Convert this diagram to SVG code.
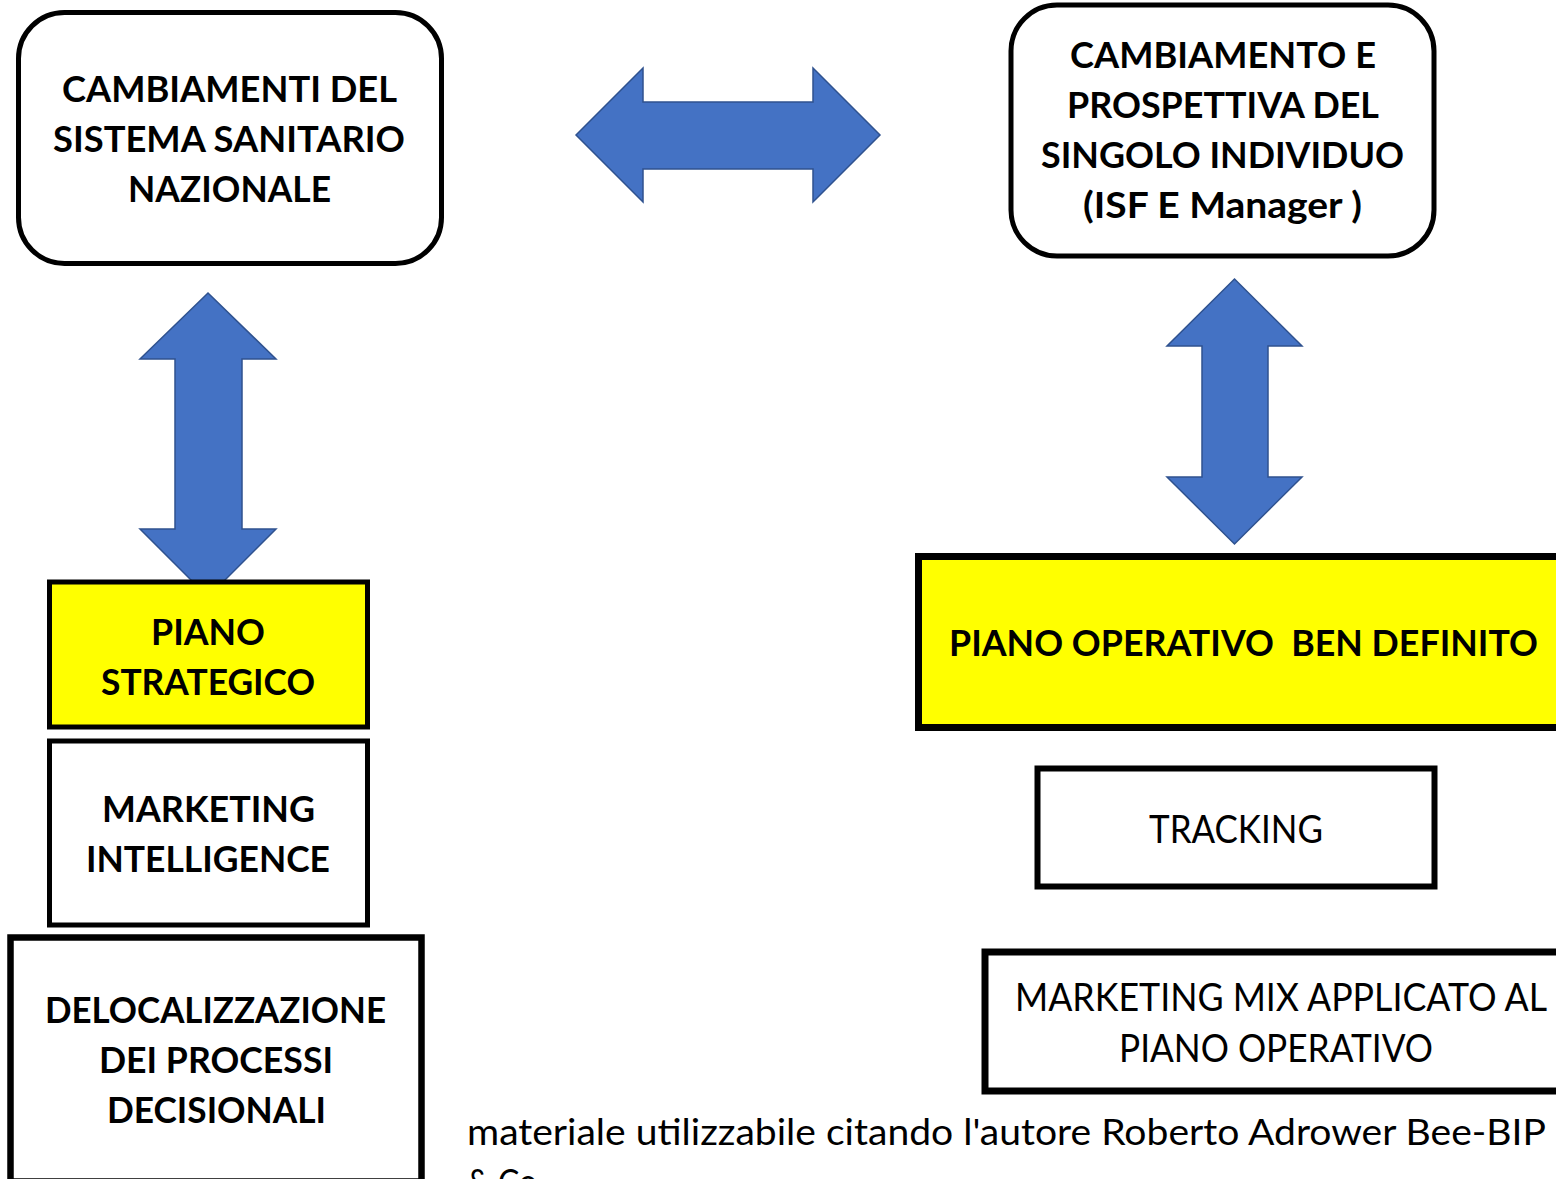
<svg xmlns="http://www.w3.org/2000/svg" width="1556" height="1179" viewBox="0 0 1556 1179">
<style>
.box{fill:#fff;stroke:#000}
.yel{fill:#ffff00;stroke:#000}
.arrow{fill:#4472c4;stroke:#2f528f;stroke-width:1.5;stroke-linejoin:miter}
.b{font-family:Lato,"Open Sans",sans-serif;font-weight:bold;font-size:37px;fill:#000;text-anchor:middle;white-space:pre}
.r{font-family:Lato,"Open Sans",sans-serif;font-weight:normal;font-size:38px;fill:#000;text-anchor:middle;white-space:pre}
.f{font-family:Lato,"Open Sans",sans-serif;font-weight:normal;font-size:37px;fill:#000}
</style>
<rect width="1556" height="1179" fill="#fff"/>
<g id="connectors">
<polygon class="arrow" points="576,135 643,68 643,102 813,102 813,68 880,135 813,202 813,169 643,169 643,202"/>
<polygon class="arrow" points="208,293 276,359 242,359 242,529 276,529 208,597 140,529 175,529 175,359 140,359"/>
<polygon class="arrow" points="1234.5,279 1302,346 1268,346 1268,477 1302,477 1234.5,544 1167,477 1202,477 1202,346 1167,346"/>
</g>
<g id="n-cambiamenti-ssn">
<rect class="box" x="18.5" y="12.5" width="423" height="251" rx="46" stroke-width="5"/>
<text class="b" x="229.5" y="102" textLength="335" lengthAdjust="spacingAndGlyphs">CAMBIAMENTI DEL</text>
<text class="b" x="229" y="152" textLength="352" lengthAdjust="spacingAndGlyphs">SISTEMA SANITARIO</text>
<text class="b" x="229.5" y="202" textLength="203" lengthAdjust="spacingAndGlyphs">NAZIONALE</text>
</g>
<g id="n-cambiamento-individuo">
<rect class="box" x="1011" y="5" width="423" height="251" rx="46" stroke-width="5"/>
<text class="b" x="1223" y="68" textLength="306" lengthAdjust="spacingAndGlyphs">CAMBIAMENTO E</text>
<text class="b" x="1223" y="118" textLength="312" lengthAdjust="spacingAndGlyphs">PROSPETTIVA DEL</text>
<text class="b" x="1222.5" y="168" textLength="363" lengthAdjust="spacingAndGlyphs">SINGOLO INDIVIDUO</text>
<text class="b" x="1222.5" y="218" textLength="279" lengthAdjust="spacingAndGlyphs">(ISF E Manager )</text>
</g>
<g id="n-piano-strategico">
<rect class="yel" x="49.5" y="582" width="318" height="145" stroke-width="5"/>
<text class="b" x="208" y="645" textLength="114" lengthAdjust="spacingAndGlyphs">PIANO</text>
<text class="b" x="208" y="695" textLength="214" lengthAdjust="spacingAndGlyphs">STRATEGICO</text>
</g>
<g id="n-marketing-intelligence">
<rect class="box" x="49.5" y="741" width="318" height="184" stroke-width="5"/>
<text class="b" x="208.5" y="822" textLength="213" lengthAdjust="spacingAndGlyphs">MARKETING</text>
<text class="b" x="208" y="872" textLength="244" lengthAdjust="spacingAndGlyphs">INTELLIGENCE</text>
</g>
<g id="n-delocalizzazione">
<rect class="box" x="10.5" y="937.5" width="411" height="244" stroke-width="6.5"/>
<text class="b" x="215.5" y="1023" textLength="341" lengthAdjust="spacingAndGlyphs">DELOCALIZZAZIONE</text>
<text class="b" x="216" y="1073" textLength="234" lengthAdjust="spacingAndGlyphs">DEI PROCESSI</text>
<text class="b" x="216.5" y="1123" textLength="219" lengthAdjust="spacingAndGlyphs">DECISIONALI</text>
</g>
<g id="n-piano-operativo">
<rect class="yel" x="918.5" y="556.5" width="660" height="171" stroke-width="7"/>
<text class="b" x="1243.5" y="656" textLength="589" lengthAdjust="spacingAndGlyphs">PIANO OPERATIVO  BEN DEFINITO</text>
</g>
<g id="n-tracking">
<rect class="box" x="1037.5" y="768.5" width="397" height="118" stroke-width="6"/>
<text class="r" x="1236" y="843" textLength="174" lengthAdjust="spacingAndGlyphs">TRACKING</text>
</g>
<g id="n-marketing-mix">
<rect class="box" x="985" y="952" width="620" height="139" stroke-width="7"/>
<text class="r" x="1281" y="1011" textLength="532" lengthAdjust="spacingAndGlyphs">MARKETING MIX APPLICATO AL</text>
<text class="r" x="1276" y="1062" textLength="314" lengthAdjust="spacingAndGlyphs">PIANO OPERATIVO</text>
</g>
<g id="footer">
<text class="f" x="467" y="1145" textLength="1079" lengthAdjust="spacingAndGlyphs">materiale utilizzabile citando l'autore Roberto Adrower Bee-BIP</text>
<text class="f" x="467" y="1195" textLength="70" lengthAdjust="spacingAndGlyphs">&amp; Co</text>
</g>
</svg>
